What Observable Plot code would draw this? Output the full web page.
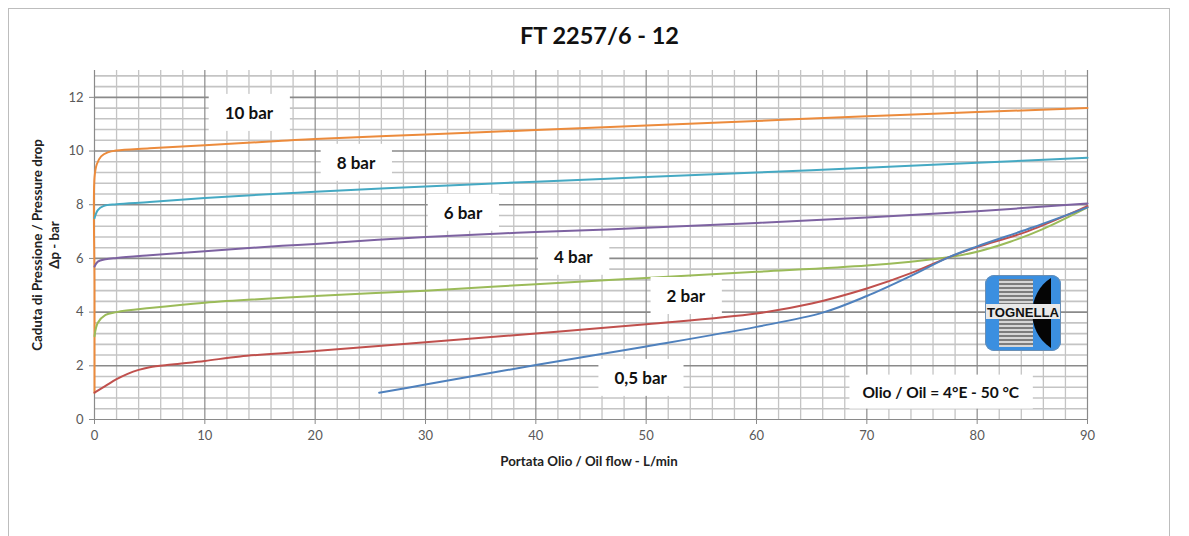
<!DOCTYPE html>
<html><head><meta charset="utf-8">
<script src="https://cdn.jsdelivr.net/npm/d3@7"></script>
<script src="https://cdn.jsdelivr.net/npm/@observablehq/plot@0.6"></script>
<style>
body{margin:0;background:#fff;font-family:Lato,"Open Sans",sans-serif;}
#frame{position:absolute;left:8px;top:8px;width:1160px;height:600px;border-left:1px solid #bdbdbd;border-top:1px solid #bdbdbd;border-right:1px solid #bdbdbd;pointer-events:none;}
#title{position:absolute;left:5px;width:1189px;top:21px;text-align:center;font-weight:bold;font-size:23.5px;color:#111;}
#chart{position:absolute;left:0;top:60px;}
#ylab{position:absolute;left:-84px;top:228px;width:260px;text-align:center;transform:rotate(-90deg);font-weight:bold;font-size:13.3px;line-height:17px;color:#222;}
#xlab{position:absolute;left:0;width:1178px;top:453px;text-align:center;font-weight:bold;font-size:13.3px;color:#222;}
#logo{position:absolute;left:985px;top:275px;}
</style></head>
<body>
<div id="title">FT 2257/6 - 12</div>
<div id="chart"></div>
<div id="ylab">Caduta di Pressione / Pressure drop<br>Δp - bar</div>
<div id="xlab">Portata Olio / Oil flow - L/min</div>
<div id="logo">
<svg width="76" height="76" viewBox="0 0 76 76">
<defs>
<clipPath id="cr"><rect x="0" y="0" width="76" height="76" rx="9"/></clipPath>
<pattern id="st" width="4" height="4" patternUnits="userSpaceOnUse"><rect width="4" height="2" fill="#7d7d7d"/><rect y="2" width="4" height="2" fill="#d6d6d6"/></pattern>
</defs>
<g clip-path="url(#cr)">
<rect width="76" height="76" fill="#3b8fe0"/>
<rect x="14" y="4" width="34" height="68" fill="url(#st)"/>
<path d="M66 3 C 42 18, 40 56, 66 73 Z" fill="#050505"/>
<rect x="0" y="29" width="76" height="15" fill="#e9e9e9"/>
<text x="38" y="41.5" text-anchor="middle" font-family="Liberation Sans Narrow, Liberation Sans, sans-serif" font-size="13" font-weight="bold" fill="#111" textLength="72" lengthAdjust="spacingAndGlyphs">TOGNELLA</text>
</g>
<rect x="0.5" y="0.5" width="75" height="75" rx="9" fill="none" stroke="#6a8fb5" stroke-width="1"/>
</svg>
</div>
<div id="frame"></div>
<script>
// ---- data ----
const seriesNames = ["10 bar", "8 bar", "6 bar", "4 bar", "2 bar", "0,5 bar"];
const seriesColors = ["#EC8B3C", "#45A9C3", "#7D62A1", "#9BBB59", "#C0504D", "#4F81BD"];

const flow10 = [0, 0, 0, 0.2, 0.6, 1.2, 2, 5, 10, 17, 20, 30, 40, 50, 60, 70, 80, 90];
const dp10   = [1.0, 5.0, 9.0, 9.5, 9.8, 9.95, 10.02, 10.1, 10.22, 10.38, 10.45, 10.62, 10.78, 10.95, 11.12, 11.3, 11.45, 11.6];

const flow8 = [0, 0.3, 0.8, 2, 5, 10, 17, 20, 30, 40, 50, 60, 70, 80, 90];
const dp8   = [7.5, 7.8, 7.95, 8.02, 8.1, 8.25, 8.42, 8.48, 8.68, 8.86, 9.03, 9.2, 9.38, 9.56, 9.75];

const flow6 = [0, 0.3, 1, 2, 5, 10, 17, 20, 30, 36.8, 40, 50, 60, 70, 80, 90];
const dp6   = [5.7, 5.88, 5.97, 6.02, 6.12, 6.27, 6.47, 6.54, 6.8, 6.93, 6.98, 7.14, 7.32, 7.52, 7.76, 8.05];

const flow4 = [0, 0.3, 1, 2, 5, 10, 20, 30, 40, 50, 60, 70, 74, 77.4, 80, 83, 86, 90];
const dp4   = [3.1, 3.6, 3.9, 4.0, 4.15, 4.35, 4.6, 4.8, 5.04, 5.27, 5.5, 5.74, 5.88, 6.04, 6.25, 6.62, 7.1, 7.9];

const flow2 = [0, 1, 2, 3, 4, 5, 7, 10, 13.2, 20, 30, 40, 50, 60, 65, 70, 74, 77.4, 80, 84.5, 90];
const dp2   = [1.0, 1.25, 1.5, 1.7, 1.85, 1.95, 2.05, 2.18, 2.35, 2.55, 2.88, 3.2, 3.55, 3.95, 4.32, 4.88, 5.45, 6.04, 6.42, 7.0, 7.95];

const flow05 = [25.8, 30, 40, 50, 60, 66, 70, 74, 77.4, 80, 85, 90];
const dp05   = [1.0, 1.3, 2.03, 2.72, 3.45, 3.98, 4.6, 5.35, 6.04, 6.45, 7.15, 7.9];

const labelTexts = ["10 bar", "8 bar", "6 bar", "4 bar", "2 bar", "0,5 bar", "Olio / Oil = 4°E - 50 °C"];
const labelFlow  = [14, 23.7, 33.4, 43.4, 53.6, 49.5, 76.7];
const labelDp    = [11.4, 9.54, 7.68, 6.04, 4.58, 1.53, 1.0];

const xTicks = [0, 10, 20, 30, 40, 50, 60, 70, 80, 90];
const yTicks = [0, 2, 4, 6, 8, 10, 12];

// ---- build ----
const flows = [flow10, flow8, flow6, flow4, flow2, flow05];
const dps = [dp10, dp8, dp6, dp4, dp2, dp05];
const rows = [];
seriesNames.forEach((s, i) => flows[i].forEach((f, j) => rows.push({series: s, flow: f, dp: dps[i][j]})));
const labels = labelTexts.map((t, i) => ({t, x: labelFlow[i], y: labelDp[i], big: i < 6}));

const minorX = d3.range(2, 91, 2).filter(v => v % 10 !== 0);
const minorY = d3.range(1, 33).map(k => +(k * 0.4).toFixed(1)).filter(v => Math.abs(v / 2 - Math.round(v / 2)) > 1e-6);
const majorX = xTicks.filter(v => v > 0);
const majorY = yTicks.filter(v => v > 0);

const chart = Plot.plot({
  width: 1189, height: 389,
  marginLeft: 94, marginRight: 102, marginTop: 10, marginBottom: 30,
  x: {domain: [0, 90]},
  y: {domain: [0, 13]},
  color: {domain: seriesNames, range: seriesColors},
  style: {fontFamily: "Lato, 'Open Sans', sans-serif", fontSize: "13px", color: "#595959", background: "transparent"},
  marks: [
    Plot.ruleX(minorX, {stroke: "#c4c4c4", strokeWidth: 1.3}),
    Plot.ruleY(minorY, {stroke: "#c4c4c4", strokeWidth: 1.6}),
    Plot.ruleX(majorX, {stroke: "#8a8a8a", strokeWidth: 1.2}),
    Plot.ruleY(majorY, {stroke: "#8a8a8a", strokeWidth: 1.6}),
    Plot.ruleX([0], {stroke: "#8a8a8a", strokeWidth: 1.2}),
    Plot.ruleY([0], {stroke: "#8a8a8a", strokeWidth: 1.2}),
    Plot.axisX(xTicks, {tickSize: 5, tickPadding: 6, stroke: "#8a8a8a", color: "#595959", label: null}),
    Plot.axisY(yTicks, {tickSize: 5, tickPadding: 6, stroke: "#8a8a8a", color: "#595959", label: null}),
    Plot.line(rows, {x: "flow", y: "dp", z: "series", stroke: "series", curve: "catmull-rom", strokeWidth: 2}),
    Plot.text(labels, {x: "x", y: "y", text: "t", fill: "#111", fontWeight: "bold",
      fontSize: d => d.big ? 17 : 15.5})
  ]
});
document.getElementById("chart").appendChild(chart);

// white boxes behind annotation labels
const NS = "http://www.w3.org/2000/svg";
chart.querySelectorAll("text").forEach(t => {
  if (!labelTexts.includes(t.textContent)) return;
  const b = t.getBBox();
  const padX = t.textContent.length > 10 ? 13 : 16, padY = 8;
  const r = document.createElementNS(NS, "rect");
  r.setAttribute("x", b.x - padX);
  r.setAttribute("y", b.y - padY);
  r.setAttribute("width", b.width + 2 * padX);
  r.setAttribute("height", b.height + 2 * padY);
  r.setAttribute("fill", "#fff");
  const tr = t.getAttribute("transform");
  if (tr) r.setAttribute("transform", tr);
  t.parentNode.insertBefore(r, t);
});
</script>
</body></html>
